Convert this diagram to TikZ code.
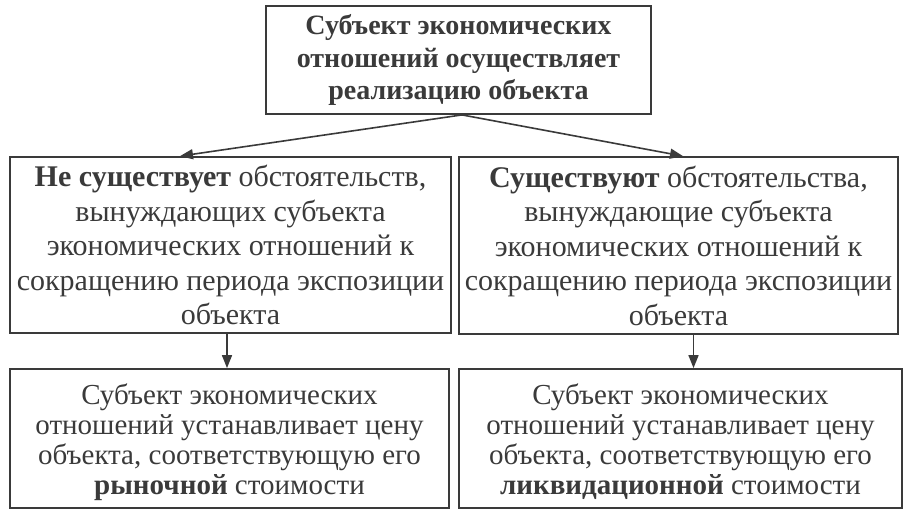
\documentclass[tikz,border=0pt]{standalone}
\usepackage{fontspec}
\setmainfont{Liberation Serif}
\usetikzlibrary{arrows.meta,calc}
\definecolor{ink}{HTML}{3A3A3A}
\tikzset{
  boxstyle/.style={draw=ink, line width=1.8pt, text=ink, align=center, inner sep=0pt},
  lowbox/.style={draw=ink, line width=1.8pt, text=ink, inner sep=0pt, font=\fontsize{29}{30}\selectfont},
  arr/.style={draw=ink, line width=1.6pt, -{Triangle[length=13pt,width=10pt]}},
}
\begin{document}
\begin{tikzpicture}[x=1pt,y=-1pt]
\useasboundingbox (0,0) rectangle (912,520);
\node[boxstyle, minimum width=385pt, minimum height=108pt, font=\fontsize{28}{32.5}\selectfont\bfseries] (T) at (458.5,60)
  {Субъект экономических\\отношений осуществляет\\реализацию объекта};
\node[boxstyle, minimum width=441pt, minimum height=176pt, font=\fontsize{30}{34.5}\selectfont] (L) at (230.5,245)
  {\textbf{Не существует} обстоятельств,\\вынуждающих субъекта\\экономических отношений к\\сокращению периода экспозиции\\объекта};
\node[boxstyle, minimum width=439pt, minimum height=177pt, font=\fontsize{30}{34.5}\selectfont] (R) at (678.5,245.5)
  {\textbf{Существуют} обстоятельства,\\вынуждающие субъекта\\экономических отношений к\\сокращению периода экспозиции\\объекта};
\node[lowbox, minimum width=439pt, minimum height=139pt] (BL) at (229.5,438.5)
  {\begin{tabular}{@{}c@{}}\rule{0pt}{30pt}Субъект экономических\\отношений устанавливает цену\\объекта, соответствующую его\\\textbf{рыночной} стоимости\end{tabular}};
\node[lowbox, minimum width=443pt, minimum height=139pt] (BR) at (680.5,438.5)
  {\begin{tabular}{@{}c@{}}\rule{0pt}{30pt}Субъект экономических\\отношений устанавливает цену\\объекта, соответствующую его\\\textbf{ликвидационной} стоимости\end{tabular}};
\coordinate (O) at ([xshift=3.5pt]T.south);
\draw[arr] (O) -- ([xshift=-50.5pt]L.north);
\draw[arr] (O) -- ([xshift=4.5pt]R.north);
\draw[arr] ([xshift=-3.5pt]L.south) -- ([xshift=-3.5pt]L.south |- BL.north);
\draw[arr] ([xshift=15pt]R.south) -- ([xshift=15pt]R.south |- BR.north);
\end{tikzpicture}
\end{document}
